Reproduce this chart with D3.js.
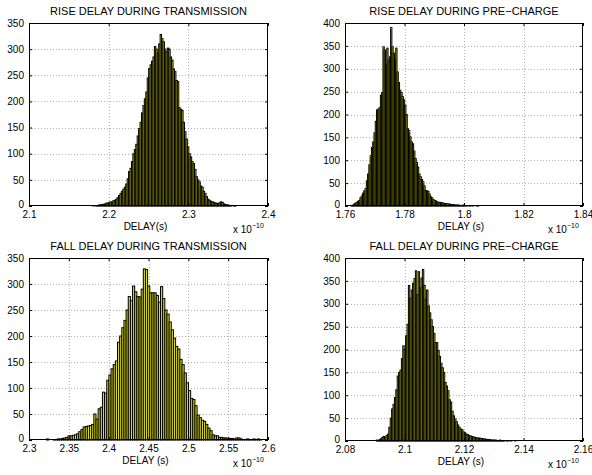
<!DOCTYPE html>
<html><head><meta charset="utf-8">
<script src="https://cdn.jsdelivr.net/npm/d3@7"></script>
<style>
body{margin:0;background:#fff}
text{font-family:"Liberation Sans",Arial,Helvetica,sans-serif;fill:#000}
</style>
</head><body>
<svg id="chart" width="592" height="475"></svg>
<script>
// ---------- DATA ----------
const panelTitles = ["RISE DELAY DURING TRANSMISSION","RISE DELAY DURING PRE\u2212CHARGE","FALL DELAY DURING TRANSMISSION","FALL DELAY DURING PRE\u2212CHARGE"];
const xLabels = ["DELAY(s)","DELAY (s)","DELAY (s)","DELAY (s)"];

// histogram bins: [first edge, bin width] (units of 1e-10 s)
const riseTxBins = [2.180, 0.0018];
const risePcBins = [1.7620, 0.00043];
const fallTxBins = [2.322, 0.0027];
const fallPcBins = [2.0905, 0.00047];

const riseTxCounts = [1,0,1,1,2, 2,3,3,4,5, 6,6,8,7,10, 11,13,16,20,24, 28,32,36,42,52,
  66,72,85,100,108, 118,134,148,160,178, 192,205,218,245,263, 270,277,285,305,300,
  292,310,328,320,314, 300,295,302,300,285, 279,262,257,240,238, 188,185,183,160,142,
  128,113,100,94,85, 81,70,56,50,46, 38,36,28,24,18, 13,11,9,8,7, 6,5,5,6,8, 7,4,3,2,2, 1,1,0,1,1];
const risePcCounts = [1,2,4,6,8, 10,12,18,22,28, 33,38,55,70,90, 110,128,140,160,185,
  210,212,215,242,248, 348,341,308,345,319, 326,390,348,334,319, 345,293,270,253,248,
  239,232,220,200,169, 165,151,140,136,120, 104,95,85,70,64, 58,53,44,34,33,
  32,26,20,18,14, 12,11,9,8,8, 7,7,6,5,5, 5,4,4,3,3, 3,2,2,2,2, 1,1,2,1,1, 1,0,1,1,0, 1,0,0,1,1];
const fallTxCounts = [2,0,0,1,1, 2,2,3,4,5, 8,8,9,10,12, 16,20,25,26,27, 28,30,50,40,60,
  63,92,90,115,125, 137,145,152,188,200, 216,230,250,276,268, 296,285,276,275,290,
  329,328,296,283,283, 283,278,265,295,272, 250,242,227,212,196, 180,175,155,145,129,
  110,95,80,78,66, 48,43,38,36,30, 23,18,10,8,8, 5,5,4,4,3, 3,3,2,4,4, 2,1,1,2,1, 1,2,1,2,1];
const fallPcCounts = [2,1,3,5,8, 10,8,12,15,30, 50,70,80,95,112, 142,150,155,180,208,
  200,230,255,340,312, 330,345,355,372,320, 370,335,356,375,340, 310,330,295,280,265,
  250,235,215,215,198, 185,170,160,150,128, 120,110,90,85,65, 55,48,42,35,30,
  26,25,20,18,15, 14,12,11,10,9, 8,7,7,6,6, 5,5,4,4,3, 3,3,2,2,2, 2,1,1,2,1, 1,1,0,1,1, 0,1,0,0,1];

const riseTxXTicks = [2.1,2.2,2.3,2.4];
const risePcXTicks = [1.76,1.78,1.8,1.82,1.84];
const fallTxXTicks = [2.3,2.35,2.4,2.45,2.5,2.55,2.6];
const fallPcXTicks = [2.08,2.1,2.12,2.14,2.16];
const yTicks350 = [0,50,100,150,200,250,300,350];
const yTicks400 = [0,50,100,150,200,250,300,350,400];

// ---------- LAYOUT ----------
const panels = [
  {title:panelTitles[0], xl:xLabels[0], bins:riseTxBins, counts:riseTxCounts, xt:riseTxXTicks, yt:yTicks350, box:[29,268,23,206]},
  {title:panelTitles[1], xl:xLabels[1], bins:risePcBins, counts:risePcCounts, xt:risePcXTicks, yt:yTicks400, box:[345,583,23,206]},
  {title:panelTitles[2], xl:xLabels[2], bins:fallTxBins, counts:fallTxCounts, xt:fallTxXTicks, yt:yTicks350, box:[29,268,258,440]},
  {title:panelTitles[3], xl:xLabels[3], bins:fallPcBins, counts:fallPcCounts, xt:fallPcXTicks, yt:yTicks400, box:[345,583,258,441]}
];

const svg = d3.select("#chart");
svg.append("rect").attr("width",592).attr("height",475).attr("fill","#fff");

panels.forEach(p => {
  const [L,R,T,B] = p.box;
  const x = d3.scaleLinear().domain([p.xt[0], p.xt[p.xt.length-1]]).range([L,R]);
  const y = d3.scaleLinear().domain([0, p.yt[p.yt.length-1]]).range([B,T]);
  const g = svg.append("g");

  // grid
  const grid = g.append("g").attr("stroke","#a0a0a0").attr("stroke-width",0.8).attr("stroke-dasharray","1,2");
  p.xt.slice(1,-1).forEach(v => grid.append("line").attr("x1",Math.round(x(v))+0.5).attr("x2",Math.round(x(v))+0.5).attr("y1",T).attr("y2",B));
  p.yt.slice(1,-1).forEach(v => grid.append("line").attr("y1",Math.round(y(v))+0.5).attr("y2",Math.round(y(v))+0.5).attr("x1",L).attr("x2",R));

  // bars
  const [x0,w] = p.bins;
  g.append("g").selectAll("rect").data(p.counts).join("rect")
    .attr("x", (d,i) => x(x0 + i*w))
    .attr("width", (d,i) => x(x0 + (i+1)*w) - x(x0 + i*w))
    .attr("y", d => y(d))
    .attr("height", d => y(0) - y(d))
    .attr("fill","#dede00")
    .attr("stroke","#000")
    .attr("stroke-width",1);

  // axes (ticks inward)
  const fmt = d => String(+d.toFixed(4));
  const ax = g.append("g").attr("transform",`translate(0,${B})`)
    .call(d3.axisBottom(x).tickValues(p.xt).tickFormat(fmt).tickSize(-3).tickPadding(6));
  const axT = g.append("g").attr("transform",`translate(0,${T})`)
    .call(d3.axisTop(x).tickValues(p.xt).tickFormat("").tickSize(-3));
  const ay = g.append("g").attr("transform",`translate(${L},0)`)
    .call(d3.axisLeft(y).tickValues(p.yt).tickFormat(d3.format("d")).tickSize(-3).tickPadding(5));
  const ayR = g.append("g").attr("transform",`translate(${R},0)`)
    .call(d3.axisRight(y).tickValues(p.yt).tickFormat("").tickSize(-3));
  [ax,axT,ay,ayR].forEach(a => {
    a.select(".domain").remove();
    a.selectAll("line").attr("stroke","#000");
    a.selectAll("text").attr("font-size","10px").attr("font-family","Liberation Sans, Arial, sans-serif");
  });
  ax.selectAll("text").attr("dy","0.6em");
  ay.selectAll("text").filter(d => d === 0).attr("dy","0.1em");

  // box
  g.append("rect").attr("x",L+0.5).attr("y",T+0.5).attr("width",R-L-1).attr("height",B-T-1)
    .attr("fill","none").attr("stroke","#000").attr("stroke-width",1);

  // title
  g.append("text").attr("x",(L+R)/2).attr("y",T-8).attr("text-anchor","middle")
    .attr("font-size","11px").text(p.title);
  // x label
  g.append("text").attr("x",(L+R)/2 - 3).attr("y",B+24).attr("text-anchor","middle")
    .attr("font-size","10px").text(p.xl);
  // exponent
  const ex = g.append("text").attr("x",R-35).attr("y",B+26.5).attr("font-size","10px");
  ex.append("tspan").text("x 10");
  ex.append("tspan").attr("dy","-4.5").attr("font-size","7px").text("\u221210");
});
</script>
</body></html>
